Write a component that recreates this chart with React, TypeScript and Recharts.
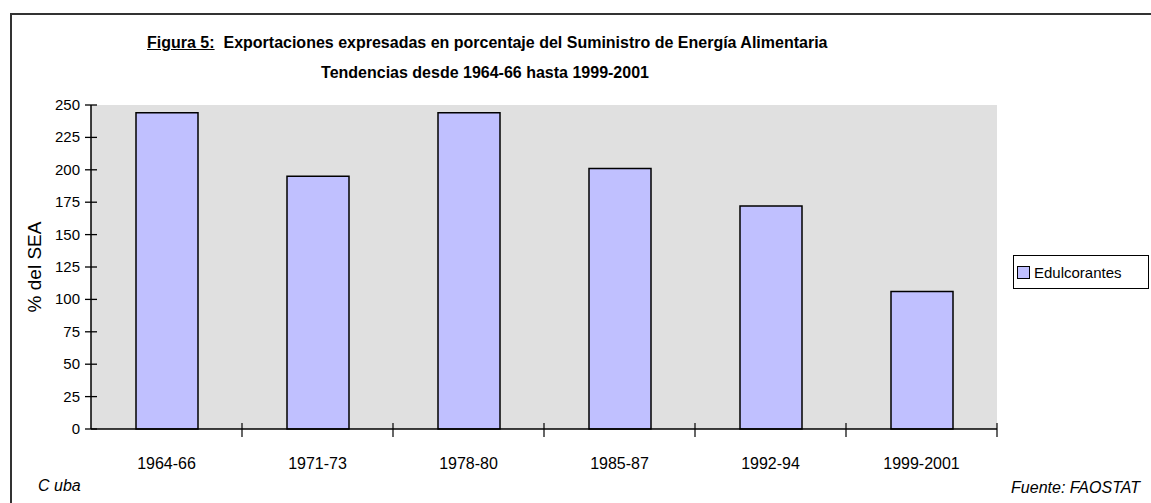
import { Bar, BarChart, CartesianGrid, XAxis, YAxis } from "recharts";

const PERIODS = ["1964-66", "1971-73", "1978-80", "1985-87", "1992-94", "1999-2001"];
const EDULCORANTES = [244, 195, 244, 201, 172, 106];
const Y_TICKS = [0, 25, 50, 75, 100, 125, 150, 175, 200, 225, 250];

const W = 1151;
const H = 503;
const M = { top: 105, right: 154, bottom: 34, left: 31 };
const Y_W = 60;
const X_H = 40;
const PLOT_W = W - M.left - M.right - Y_W;

const NARROW = "'Liberation Sans Narrow', 'Arial Narrow', 'Liberation Sans', Arial, sans-serif";
const SANS = "'Liberation Sans', Arial, sans-serif";

const data = PERIODS.map((p, i) => ({ period: p, value: EDULCORANTES[i] }));

function YTick(props: any) {
  const { x, y, payload } = props;
  return (
    <g>
      <line x1={x + 12 - 6} x2={x + 12 + 6} y1={y} y2={y} stroke="#000" strokeWidth={1.3} />
      <text x={x + 1} y={y} dy={5} textAnchor="end" fontFamily={NARROW} fontSize={15} fill="#000">
        {payload.value}
      </text>
    </g>
  );
}

function XTick(props: any) {
  const { x, y, payload, index } = props;
  const step = PLOT_W / PERIODS.length;
  const axisY = y - 18;
  return (
    <g>
      {index > 0 && (
        <line x1={x - step / 2} x2={x - step / 2} y1={axisY - 6} y2={axisY + 8} stroke="#000" strokeWidth={1.2} />
      )}
      {index === PERIODS.length - 1 && (
        <line x1={x + step / 2} x2={x + step / 2} y1={axisY - 6} y2={axisY + 8} stroke="#000" strokeWidth={1.2} />
      )}
      <text x={x} y={y} dy={22} textAnchor="middle" fontFamily={NARROW} fontSize={16} fill="#000">
        {payload.value}
      </text>
    </g>
  );
}

export default function App() {
  return (
    <div style={{ position: "absolute", left: 0, top: 0, width: W, height: H, background: "#fff", overflow: "hidden" }}>
      <div
        style={{
          position: "absolute",
          left: 10,
          top: 13,
          width: W,
          height: H,
          borderLeft: "2px solid #333",
          borderTop: "2px solid #333",
        }}
      />
      <div
        style={{
          position: "absolute",
          left: 147,
          top: 34,
          fontFamily: NARROW,
          fontWeight: "bold",
          fontSize: 16,
          whiteSpace: "pre",
        }}
      >
        <span style={{ textDecoration: "underline" }}>Figura 5:</span>
        {"  Exportaciones expresadas en porcentaje del Suministro de Energía Alimentaria"}
      </div>
      <div
        style={{
          position: "absolute",
          left: 0,
          width: 970,
          top: 64,
          textAlign: "center",
          fontFamily: NARROW,
          fontWeight: "bold",
          fontSize: 16,
        }}
      >
        Tendencias desde 1964-66 hasta 1999-2001
      </div>
      <div style={{ position: "absolute", left: 0, top: 0 }}>
        <BarChart width={W} height={H} data={data} margin={M}>
          <CartesianGrid fill="#e0e0e0" horizontal={false} vertical={false} />
          <XAxis xAxisId="top" orientation="top" dataKey="period" height={0} tick={false} tickLine={false} axisLine={{ stroke: "#808080", strokeWidth: 2 }} />
          <YAxis yAxisId="right" orientation="right" width={0} tick={false} tickLine={false} axisLine={{ stroke: "#808080", strokeWidth: 2 }} />
          <XAxis
            dataKey="period"
            height={X_H}
            tickSize={0}
            tickMargin={18}
            interval={0}
            axisLine={{ stroke: "#000", strokeWidth: 1.5 }}
            tickLine={false}
            tick={<XTick />}
          />
          <YAxis
            width={Y_W}
            domain={[0, 250]}
            ticks={Y_TICKS}
            interval={0}
            tickSize={0}
            tickMargin={12}
            tickLine={false}
            axisLine={{ stroke: "#000", strokeWidth: 1.5 }}
            tick={<YTick />}
            label={{
              value: "% del SEA",
              angle: -90,
              position: "insideLeft",
              offset: 3,
              style: { fontFamily: SANS, fontSize: 19, fill: "#000", textAnchor: "middle" },
            }}
          />
          <Bar dataKey="value" fill="#c0c0ff" stroke="#000" strokeWidth={1.5} barSize={62} isAnimationActive={false} />
        </BarChart>
      </div>
      <div
        style={{
          position: "absolute",
          left: 1013,
          top: 255,
          width: 134,
          height: 32,
          border: "1px solid #000",
          background: "#fff",
          display: "flex",
          alignItems: "center",
          fontFamily: NARROW,
          fontSize: 15,
        }}
      >
        <span
          style={{
            display: "inline-block",
            width: 11,
            height: 11,
            marginLeft: 3,
            marginRight: 4,
            background: "#c0c0ff",
            border: "1px solid #000",
          }}
        />
        Edulcorantes
      </div>
      <div style={{ position: "absolute", left: 38, top: 477, fontFamily: NARROW, fontStyle: "italic", fontSize: 16 }}>
        C uba
      </div>
      <div style={{ position: "absolute", right: 11, top: 479, fontFamily: NARROW, fontStyle: "italic", fontSize: 16 }}>
        Fuente: FAOSTAT
      </div>
    </div>
  );
}
